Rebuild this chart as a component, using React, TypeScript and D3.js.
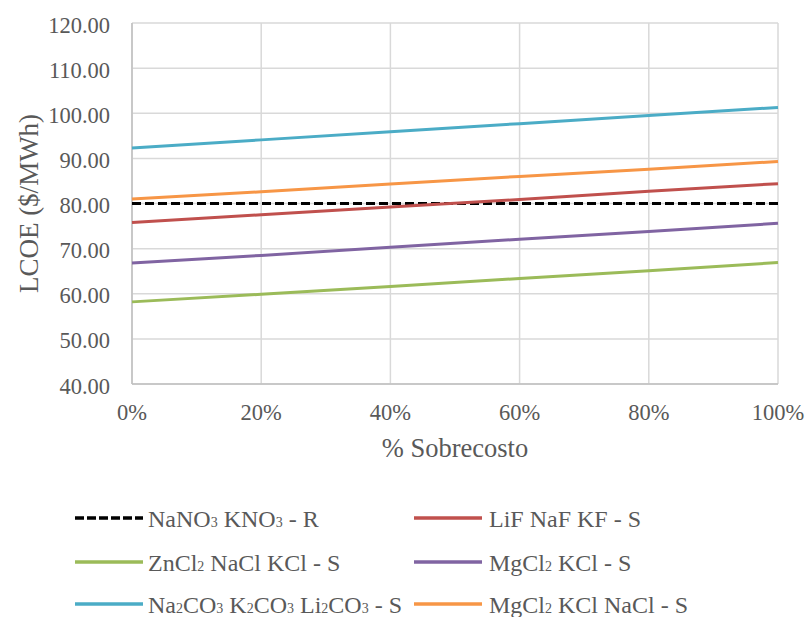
import React from "react";
import * as d3 from "d3";

const xValues = [0, 0.2, 0.4, 0.6, 0.8, 1.0];
const refNaNO3 = [80, 80, 80, 80, 80, 80];
const lif = [75.8, 77.5, 79.2, 80.9, 82.7, 84.4];
const zncl2 = [58.2, 59.9, 61.6, 63.4, 65.1, 66.9];
const mgcl2kcl = [66.8, 68.5, 70.3, 72.1, 73.8, 75.6];
const na2co3 = [92.3, 94.1, 95.9, 97.7, 99.5, 101.3];
const mgcl2kclnacl = [81.0, 82.6, 84.3, 86.0, 87.6, 89.3];
const yTicks = [40, 50, 60, 70, 80, 90, 100, 110, 120];
const xTicks = [0, 0.2, 0.4, 0.6, 0.8, 1.0];

type Part = { t: string; sub?: boolean };
const seriesDefs: { name: Part[]; values: number[]; color: string; dash?: string }[] = [
  { name: [{ t: "NaNO" }, { t: "3", sub: true }, { t: " KNO" }, { t: "3", sub: true }, { t: " - R" }], values: refNaNO3, color: "#000000", dash: "9,4" },
  { name: [{ t: "LiF NaF KF - S" }], values: lif, color: "#c0504d" },
  { name: [{ t: "ZnCl" }, { t: "2", sub: true }, { t: " NaCl KCl - S" }], values: zncl2, color: "#9bbb59" },
  { name: [{ t: "MgCl" }, { t: "2", sub: true }, { t: " KCl - S" }], values: mgcl2kcl, color: "#8064a2" },
  { name: [{ t: "Na" }, { t: "2", sub: true }, { t: "CO" }, { t: "3", sub: true }, { t: " K" }, { t: "2", sub: true }, { t: "CO" }, { t: "3", sub: true }, { t: " Li" }, { t: "2", sub: true }, { t: "CO" }, { t: "3", sub: true }, { t: " - S" }], values: na2co3, color: "#4bacc6" },
  { name: [{ t: "MgCl" }, { t: "2", sub: true }, { t: " KCl NaCl - S" }], values: mgcl2kclnacl, color: "#f79646" },
];

export default function App() {
  const W = 808, H = 617;
  const left = 132, right = 778, top = 23, bottom = 384;
  const x = d3.scaleLinear().domain([0, 1]).range([left, right]);
  const y = d3.scaleLinear().domain([40, 120]).range([bottom, top]);
  const fmtY = d3.format(".2f");
  const fmtX = d3.format(".0%");
  const font = "'Liberation Serif', 'Times New Roman', serif";
  const txt = "#595959";

  const legendPos = [
    { lx: 75, tx: 148, y: 518 },
    { lx: 414, tx: 489, y: 518 },
    { lx: 75, tx: 148, y: 562 },
    { lx: 414, tx: 489, y: 562 },
    { lx: 75, tx: 148, y: 604 },
    { lx: 414, tx: 489, y: 604 },
  ];

  return (
    <svg width={W} height={H} style={{ position: "absolute", left: 0, top: 0, background: "#fff" }} fontFamily={font}>
      {yTicks.map((t) => (
        <line key={"gy" + t} x1={left} x2={right} y1={y(t)} y2={y(t)} stroke="#d9d9d9" strokeWidth={1.5} />
      ))}
      {xTicks.map((t) => (
        <line key={"gx" + t} x1={x(t)} x2={x(t)} y1={top} y2={bottom} stroke="#d9d9d9" strokeWidth={1.5} />
      ))}
      <line x1={left} x2={right} y1={bottom} y2={bottom} stroke="#bfbfbf" strokeWidth={1.5} />
      <line x1={left} x2={left} y1={top} y2={bottom} stroke="#bfbfbf" strokeWidth={1.5} />
      {yTicks.map((t) => (
        <text key={"ty" + t} x={110} y={y(t) + 9.5} textAnchor="end" fontSize={22.5} fill={txt}>
          {fmtY(t)}
        </text>
      ))}
      {xTicks.map((t) => (
        <text key={"tx" + t} x={x(t)} y={420} textAnchor="middle" fontSize={22.5} fill={txt}>
          {fmtX(t)}
        </text>
      ))}
      <text x={(left + right) / 2} y={457} textAnchor="middle" fontSize={26.5} fill={txt}>% Sobrecosto</text>
      <text transform={`translate(38, ${(top + bottom) / 2}) rotate(-90)`} textAnchor="middle" fontSize={27} fill={txt}>LCOE ($/MWh)</text>
      {seriesDefs.map((s, i) => {
        const line = d3.line<number>().x((_, j) => x(xValues[j])).y((v) => y(v));
        return (
          <path key={"s" + i} d={line(s.values) || ""} fill="none" stroke={s.color} strokeWidth={3} strokeDasharray={s.dash} />
        );
      })}
      {seriesDefs.map((s, i) => {
        const p = legendPos[i];
        return (
          <g key={"l" + i}>
            <line x1={p.lx} x2={p.lx + 68} y1={p.y} y2={p.y} stroke={s.color} strokeWidth={3.5} strokeDasharray={s.dash ? "9,3" : undefined} />
            <text x={p.tx} y={p.y + 9} fontSize={24} fill={txt}>
              {s.name.map((pt, k) =>
                pt.sub ? (
                  <tspan key={k} fontSize={14}>{pt.t}</tspan>
                ) : (
                  <tspan key={k}>{pt.t}</tspan>
                )
              )}
            </text>
          </g>
        );
      })}
    </svg>
  );
}
